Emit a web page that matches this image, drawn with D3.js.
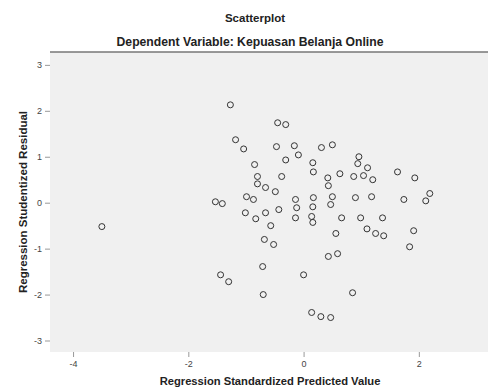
<!DOCTYPE html>
<html>
<head>
<meta charset="UTF-8">
<title>Scatterplot</title>
<script src="https://cdn.jsdelivr.net/npm/d3@7/dist/d3.min.js"></script>
<style>
  body { margin: 0; background: #fff; }
  text { font-family: "Liberation Sans", Arial, sans-serif; fill: #222; }
</style>
</head>
<body>
<svg id="chart" width="494" height="389"></svg>
<script>
// data
var predicted = [-1.27,-1.18,-1.04,-0.45,-0.31,-0.47,-0.16,-0.09,-0.31,0.16,
                 0.17,0.31,0.50,-0.85,-0.38,-0.80,-0.80,-0.66,-0.49,0.42,
                 0.63,0.43,0.96,0.94,1.11,0.87,1.04,1.20,1.63,1.93,
                 -1.53,-1.41,-0.99,-0.87,-0.14,-0.12,0.17,0.16,0.50,0.47,
                 0.90,1.18,1.74,2.19,2.12,-1.01,-0.83,-0.66,-0.43,-0.14,
                 0.14,0.16,0.66,0.99,1.37,-0.57,-0.68,-0.52,0.56,1.10,
                 1.25,1.39,1.91,1.84,0.43,0.59,-0.71,-1.44,-1.30,-0.70,
                 0.00,0.85,0.14,0.30,0.47,-3.50];
var residual = [2.13,1.37,1.17,1.74,1.70,1.22,1.24,1.04,0.93,0.87,
                0.67,1.20,1.26,0.83,0.57,0.57,0.41,0.33,0.24,0.54,
                0.63,0.37,1.00,0.85,0.76,0.57,0.59,0.50,0.67,0.54,
                0.02,-0.02,0.13,0.07,0.07,-0.11,0.11,-0.09,0.13,-0.04,
                0.11,0.13,0.07,0.20,0.04,-0.22,-0.35,-0.22,-0.15,-0.33,
                -0.30,-0.43,-0.33,-0.33,-0.33,-0.50,-0.80,-0.91,-0.67,-0.57,
                -0.67,-0.72,-0.61,-0.96,-1.17,-1.11,-1.39,-1.57,-1.72,-2.00,
                -1.57,-1.96,-2.39,-2.48,-2.50,-0.52];
var xTicks = [-4, -2, 0, 2];
var yTicks = [-3, -2, -1, 0, 1, 2, 3];

var svg = d3.select("#chart");
var plotL = 50, plotR = 488, plotT = 52, plotB = 352;

var x = d3.scaleLinear().domain([-4.4, 3.2]).range([plotL, plotR]);
var y = d3.scaleLinear().domain([-3.25, 3.28]).range([plotB, plotT]);

// titles
svg.append("text").attr("x", 255).attr("y", 22).attr("text-anchor", "middle")
    .style("font-size", "11.5px").style("font-weight", "bold").text("Scatterplot");
svg.append("text").attr("x", 250).attr("y", 46).attr("text-anchor", "middle")
    .style("font-size", "12.2px").style("font-weight", "bold")
    .text("Dependent Variable: Kepuasan Belanja Online");

// plot area
svg.append("rect").attr("x", plotL).attr("y", plotT)
    .attr("width", plotR - plotL).attr("height", plotB - plotT)
    .attr("fill", "#f0f0f0");
svg.append("line").attr("x1", plotL).attr("x2", plotR).attr("y1", plotT).attr("y2", plotT)
    .attr("stroke", "#777").attr("stroke-width", 1.5);

// axes
var fmt = function (d) { return String(d); };
var yAxis = d3.axisLeft(y).tickValues(yTicks).tickFormat(fmt).tickSize(5).tickPadding(3);
var gy = svg.append("g").attr("transform", "translate(" + plotL + ",0)").call(yAxis);
gy.select(".domain").remove();
gy.selectAll("line").attr("stroke", "#999");
gy.selectAll("text").style("font-size", "9px").style("fill", "#444");

var xAxis = d3.axisBottom(x).tickValues(xTicks).tickFormat(fmt).tickSize(5).tickPadding(4);
var gx = svg.append("g").attr("transform", "translate(0," + plotB + ")").call(xAxis);
gx.select(".domain").remove();
gx.selectAll("line").attr("stroke", "#999");
gx.selectAll("text").style("font-size", "9px").style("fill", "#444");

svg.append("text").attr("x", 270).attr("y", 385).attr("text-anchor", "middle")
    .style("font-size", "11.2px").style("font-weight", "bold")
    .text("Regression Standardized Predicted Value");
svg.append("text").attr("transform", "translate(27,202) rotate(-90)")
    .attr("text-anchor", "middle")
    .style("font-size", "11.5px").style("font-weight", "bold")
    .text("Regression Studentized Residual");

// points
svg.append("g").selectAll("circle")
    .data(predicted)
    .enter()
    .append("circle")
    .attr("cx", function (d) { return x(d); })
    .attr("cy", function (d, i) { return y(residual[i]); })
    .attr("r", 3)
    .attr("fill", "none")
    .attr("stroke", "#333")
    .attr("stroke-width", 1);
</script>
</body>
</html>
